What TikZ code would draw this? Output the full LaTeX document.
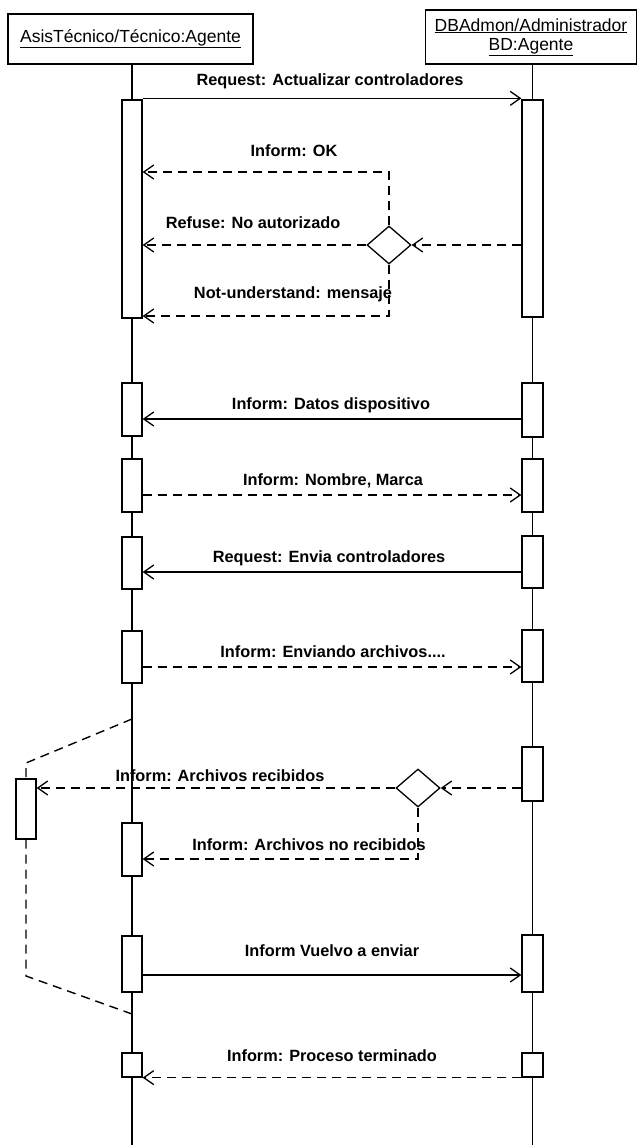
\documentclass[tikz,border=0pt]{standalone}
\usepackage{fontspec}
\setmainfont{Liberation Sans}
\usetikzlibrary{arrows.meta,shapes.geometric,calc}
\begin{document}
\begin{tikzpicture}[x=1pt,y=-1pt,
  line width=1.3pt,
  hdr/.style={draw, rectangle, inner sep=0pt, align=center,
    font=\fontsize{17.5}{19}\selectfont},
  bar/.style={draw, fill=white, rectangle, inner sep=0pt, minimum width=20pt},
  rbar/.style={bar, minimum width=21pt},
  life/.style={line width=1.5pt},
  msg/.style={-{Straight Barb[length=10pt,width=14pt]}},
  dmsg/.style={msg, dash pattern=on 9pt off 6pt},
  link/.style={line width=1.4pt, dash pattern=on 9pt off 6pt},
  lbl/.style={font=\bfseries\fontsize{16.3}{19}\selectfont, inner sep=0pt},
  dec/.style={draw, diamond, fill=white, inner sep=0pt,
    minimum width=44pt, minimum height=38pt}
]
\useasboundingbox (0,0) rectangle (638,1145);

% participants
\node[hdr, minimum width=245pt, minimum height=50pt] (ha) at (130.5,39)
  {\underline{AsisTécnico/Técnico:Agente}};
\node[hdr, minimum width=211pt, minimum height=54pt] (hb) at (531,37)
  {\underline{DBAdmon/Administrador}\\\underline{BD:Agente}};

% lifelines
\coordinate (la) at (132,64);
\coordinate (lae) at (132,1145);
\coordinate (lb) at (532.5,64);
\coordinate (lbe) at (532.5,1145);
\draw[life] (la) -- (lae);
\draw[life] (lb) -- (lbe);

% return path of the resend loop
\coordinate (ka) at (132,719);
\coordinate (kb) at (26,763);
\coordinate (kc) at (26,976);
\coordinate (kd) at (132,1014);

% activation bars
\node[bar,  minimum height=218pt] (L1) at (132,209) {};
\node[rbar, minimum height=217pt] (R1) at (532.5,208.5) {};
\node[bar,  minimum height=53pt] (L2) at (132,409.5) {};
\node[rbar, minimum height=54pt] (R2) at (532.5,410) {};
\node[bar,  minimum height=53pt] (L3) at (132,485.5) {};
\node[rbar, minimum height=53pt] (R3) at (532.5,485.5) {};
\node[bar,  minimum height=52pt] (L4) at (132,563) {};
\node[rbar, minimum height=52pt] (R4) at (532.5,562) {};
\node[bar,  minimum height=52pt] (L5) at (132,657) {};
\node[rbar, minimum height=52pt] (R5) at (532.5,656) {};
\node[rbar, minimum height=54pt] (R6) at (532.5,774) {};
\node[bar,  minimum height=60pt] (S)  at (26,809) {};
\node[bar,  minimum height=53pt] (L7) at (132,849.5) {};
\node[bar,  minimum height=56pt] (L8) at (132,964) {};
\node[rbar, minimum height=57pt] (R8) at (532.5,963.5) {};
\node[bar,  minimum height=24pt] (L9) at (132,1065) {};
\node[rbar, minimum height=24pt] (R9) at (532.5,1065) {};

\draw[link] (ka) -- (kb) -- (S.north);
\draw[link] (S.south) -- (kc) -- (kd);

% decision points
\node[dec] (d1) at (389,245) {};
\node[dec] (d2) at (418,788) {};

% messages
\draw[msg] ([yshift=1pt]L1.north east) -- ([yshift=1pt]R1.north west);
\node[lbl] (t1) at (330,81) {Request: Actualizar controladores};

\draw[dmsg] (R1.west |- d1.east) -- (d1.east);
\draw[dmsg] (d1.north) |- (L1.east |- 0,172);
\node[lbl] (t2) at (294,151) {Inform: OK};
\draw[dmsg] (d1.west) -- (L1.east |- d1.west);
\node[lbl] (t3) at (253,223) {Refuse: No autorizado};
\draw[dmsg] (d1.south) |- (L1.east |- 0,316);
\node[lbl] (t4) at (293,294) {Not-understand: mensaje};

\draw[msg] (R2.west |- 0,419) -- (L2.east |- 0,419);
\node[lbl] (t5) at (331,405) {Inform: Datos dispositivo};

\draw[dmsg] (L3.east |- 0,495) -- (R3.west |- 0,495);
\node[lbl] (t6) at (333,481) {Inform: Nombre, Marca};

\draw[msg] (R4.west |- 0,572) -- (L4.east |- 0,572);
\node[lbl] (t7) at (329,558) {Request: Envia controladores};

\draw[dmsg] (L5.east |- 0,667) -- (R5.west |- 0,667);
\node[lbl] (t8) at (333,652) {Inform: Enviando archivos....};

\draw[dmsg] (R6.west |- d2.east) -- (d2.east);
\draw[dmsg] (d2.west) -- (S.east |- d2.west);
\node[lbl] (t9) at (220,776) {Inform: Archivos recibidos};
\draw[dmsg] (d2.south) |- (L7.east |- 0,859);
\node[lbl] (t10) at (309,845) {Inform: Archivos no recibidos};

\draw[msg] (L8.east |- 0,975) -- (R8.west |- 0,975);
\node[lbl] (t11) at (332,951) {Inform Vuelvo a enviar};

\draw[dmsg] (R9.south west) -- (L9.south east);
\node[lbl] (t12) at (332,1056) {Inform: Proceso terminado};
\end{tikzpicture}
\end{document}
